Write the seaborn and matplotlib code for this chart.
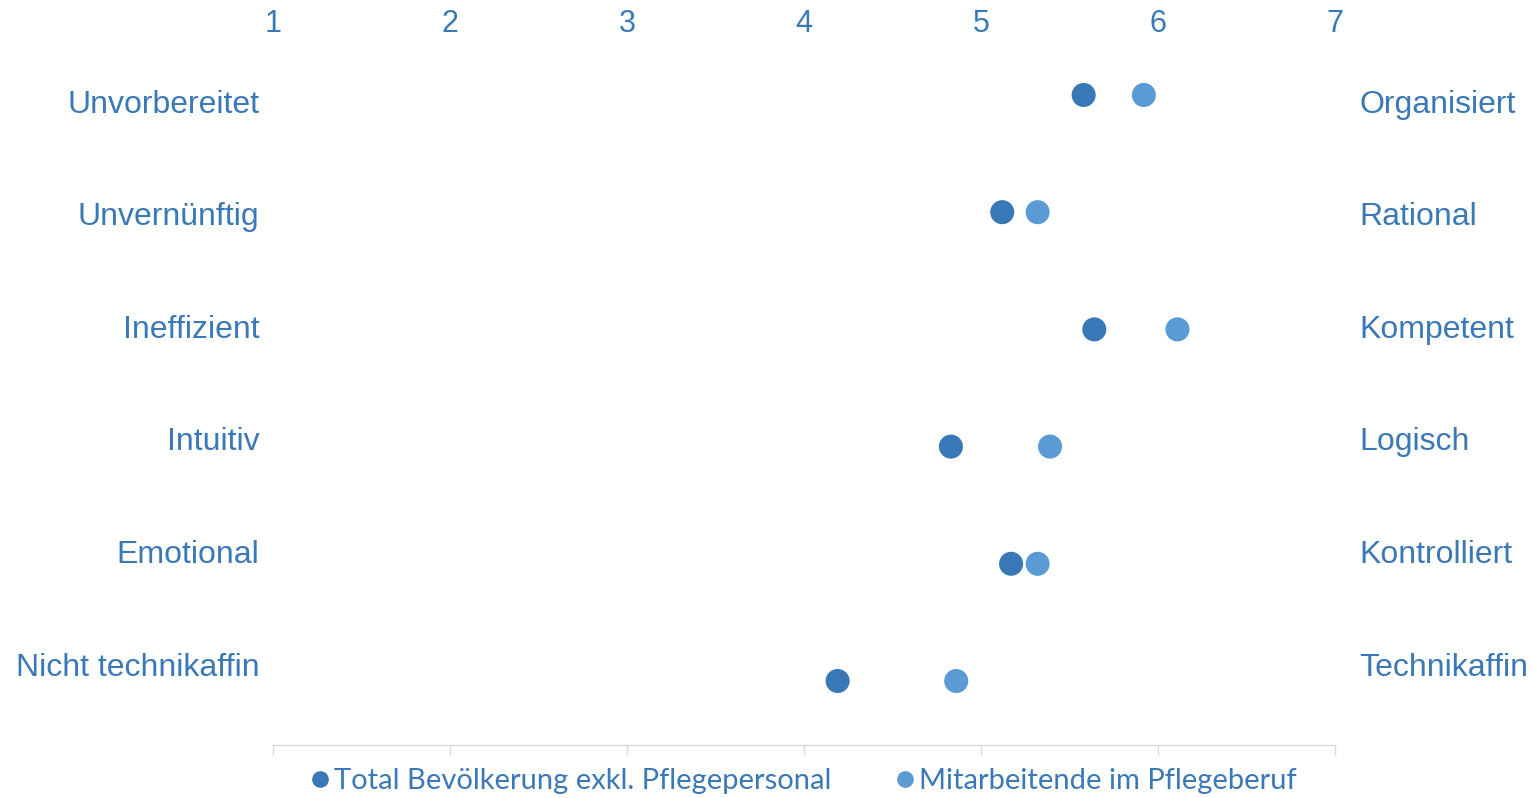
import pandas as pd
import seaborn as sns
import matplotlib.pyplot as plt
from matplotlib.lines import Line2D

# Gegensatzpaare (links / rechts) und Mittelwerte auf der Skala 1-7
links = ['Unvorbereitet', 'Unvernünftig', 'Ineffizient', 'Intuitiv', 'Emotional', 'Nicht technikaffin']
rechts = ['Organisiert', 'Rational', 'Kompetent', 'Logisch', 'Kontrolliert', 'Technikaffin']
total = [5.58, 5.12, 5.64, 4.83, 5.17, 4.19]
pflege = [5.92, 5.32, 6.11, 5.39, 5.32, 4.86]
gruppen = ['Total Bevölkerung exkl. Pflegepersonal', 'Mitarbeitende im Pflegeberuf']
skala = [1, 2, 3, 4, 5, 6, 7]

farben = {gruppen[0]: '#3878B6', gruppen[1]: '#5B9BD5'}
textfarbe = '#3A78B6'

df = pd.DataFrame({
    'paar': list(range(len(links))) * 2,
    'wert': total + pflege,
    'gruppe': [gruppen[0]] * len(total) + [gruppen[1]] * len(pflege),
})

sns.set_style('white')
plt.rcParams['font.family'] = ['Liberation Sans', 'DejaVu Sans']

fig = plt.figure(figsize=(15.32, 7.98), dpi=100)
ax = fig.add_axes([273 / 1532, 53 / 798, 1062 / 1532, 705 / 798])

sns.scatterplot(data=df, x='wert', y='paar', hue='gruppe', palette=farben,
                s=300, linewidth=0, legend=False, ax=ax, zorder=3)

ax.set_xlim(1, 7)
ax.set_ylim(5.546, -0.469)
ax.set_xticks(skala)
ax.set_xticklabels([str(v) for v in skala], fontsize=22, color=textfarbe)
ax.tick_params(axis='x', bottom=True, top=False, labelbottom=False, labeltop=True,
               direction='out', length=7, width=1, color='#D9D9D9', pad=-6)
ax.set_yticks([])
ax.set_xlabel('')
ax.set_ylabel('')
for s in ['top', 'left', 'right']:
    ax.spines[s].set_visible(False)
ax.spines['bottom'].set_color('#D9D9D9')
ax.spines['bottom'].set_linewidth(1)

# Beschriftungen links und rechts (Excel-Stil: leicht anders verteilt als die Punkte)
for i, (l, r) in enumerate(zip(links, rechts)):
    ypos = 0.085 + 0.96 * i
    ax.text(-0.013, ypos, l, transform=ax.get_yaxis_transform(), ha='right', va='center',
            fontsize=23, color=textfarbe)
    ax.text(1.023, ypos, r, transform=ax.get_yaxis_transform(), ha='left', va='center',
            fontsize=23, color=textfarbe)

handles = [Line2D([], [], marker='o', linestyle='', markersize=12,
                  markerfacecolor=farben[g], markeredgewidth=0) for g in gruppen]
leg = fig.legend(handles, gruppen, loc='center', bbox_to_anchor=(801 / 1532, 1 - 781 / 798),
                 ncol=2, frameon=False, handletextpad=0.0, handlelength=1.0, columnspacing=2.0,
                 prop={'family': ['Lato', 'DejaVu Sans'], 'size': 21})
for t in leg.get_texts():
    t.set_color(textfarbe)

fig.savefig('out.png', dpi=100)
